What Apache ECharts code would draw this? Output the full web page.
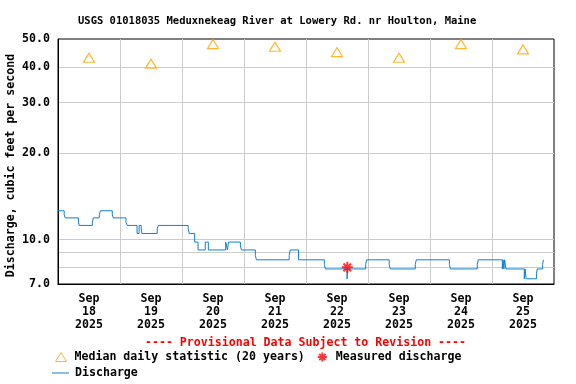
<!DOCTYPE html>
<html><head><meta charset="utf-8">
<script src="https://cdn.jsdelivr.net/npm/echarts@6/dist/echarts.min.js"></script>
<style>html,body{margin:0;padding:0;background:#fff}#c{width:576px;height:384px}</style>
</head><body><div id="c"></div>
<script>
// ---------- data ----------
const titleText = 'USGS 01018035 Meduxnekeag River at Lowery Rd. nr Houlton, Maine';
const yAxisName = 'Discharge, cubic feet per second';
const noteText = '---- Provisional Data Subject to Revision ----';
const monthLabel = 'Sep';
const yearLabel = '2025';
const days = [18, 19, 20, 21, 22, 23, 24, 25];
const medianValues = [43, 41, 48, 47, 45, 43, 48, 46];
const yTickValues = [8, 9, 10, 20, 30, 40];
const yLabelValues = [7, 10, 20, 30, 40, 50];
const measuredHours = [112.0];
const measuredValues = [8.0];
// hours since Sep 18 00:00 where the discharge steps to a new value
const dischargeHours = [0, 2.4, 2.8, 7.9, 8.2, 13.3, 13.7, 16.0, 16.4, 21.0, 21.4, 26.3, 26.8,
  30.6, 31.4, 32.2, 32.5, 38.4, 38.8, 50.4, 50.8, 52.9, 54.2, 57.0, 58.2, 64.9, 65.6, 66.0,
  70.6, 71.0, 76.4, 76.8, 89.5, 89.9, 93.1, 103.1, 103.5, 111.9, 112.1, 119.1, 119.5,
  128.2, 128.6, 138.3, 138.7, 151.5, 151.9, 162.3, 162.7, 172.0, 172.3, 172.6, 172.9, 173.4,
  180.5, 180.8, 181.2, 185.2, 185.5, 187.6, 187.9];
const dischargeValues = [12.6, 12.2, 11.9, 11.5, 11.2, 11.5, 11.9, 12.2, 12.6, 12.2, 11.9, 11.5, 11.2,
  10.5, 11.2, 10.9, 10.5, 10.9, 11.2, 10.9, 10.5, 9.8, 9.2, 9.8, 9.2, 9.8, 9.2, 9.8,
  9.5, 9.2, 8.8, 8.5, 8.8, 9.2, 8.5, 8.2, 7.9, 7.3, 7.9, 8.2, 8.5,
  8.2, 7.9, 8.2, 8.5, 8.2, 7.9, 8.2, 8.5, 7.9, 8.5, 7.9, 8.5, 7.9,
  7.3, 7.9, 7.3, 7.6, 7.9, 8.2, 8.5];

// ---------- build ----------
const HOUR = 3600000, DAY = 24 * HOUR;
const T0 = Date.UTC(2025, 8, days[0]);
const toT = h => T0 + h * HOUR;
const midnights = days.slice(1).map(d => Date.UTC(2025, 8, d));
const noons = days.map(d => Date.UTC(2025, 8, d, 12));
const FONT = '"DejaVu Sans Mono", "Liberation Mono", monospace';
const txt = {fontFamily: FONT, fontWeight: 'bold', fontSize: 11.6, color: '#000'};
const starPath = 'path://M5,0L5,10M0,5L10,5M1.5,1.5L8.5,8.5M8.5,1.5L1.5,8.5';
const BLUE = '#1080d0';

const chart = echarts.init(document.getElementById('c'));
chart.setOption({
  animation: false,
  backgroundColor: '#fff',
  title: {text: titleText, left: 78, top: 15, padding: 0,
    textStyle: {fontFamily: FONT, fontWeight: 'bold', fontSize: 10.5, lineHeight: 12, color: '#000'}},
  grid: {left: 58, right: 22, top: 39, bottom: 100, show: true, borderColor: '#000', borderWidth: 1,
    containLabel: false, outerBoundsMode: 'none'},
  xAxis: {
    type: 'value', min: T0, max: T0 + 8 * DAY,
    axisLine: {lineStyle: {color: '#000', width: 1}},
    axisTick: {show: false, customValues: midnights},
    axisLabel: Object.assign({customValues: noons, margin: 8, lineHeight: 13,
      formatter: v => monthLabel + '\n' + new Date(v).getUTCDate() + '\n' + yearLabel}, txt),
    splitLine: {show: true, lineStyle: {color: '#cccccc', width: 1}}
  },
  yAxis: {
    type: 'log', logBase: 10, min: 7, max: 50,
    axisLine: {show: true, lineStyle: {color: '#000', width: 1}},
    axisTick: {show: false, customValues: yTickValues},
    axisLabel: Object.assign({customValues: yLabelValues, margin: 8,
      formatter: v => Number(v).toFixed(1)}, txt),
    splitLine: {show: true, lineStyle: {color: '#cccccc', width: 1}},
    name: yAxisName, nameLocation: 'middle', nameGap: 41, nameMoveOverlap: false,
    nameTextStyle: Object.assign({padding: [0, 8, 0, 0]}, txt)
  },
  legend: [
    {data: [
      {name: 'Median daily statistic (20 years)', icon: 'triangle',
        itemStyle: {color: 'transparent', borderColor: '#FFA500', borderWidth: 1}},
      {name: 'Measured discharge', icon: starPath,
        itemStyle: {color: 'transparent', borderColor: '#ff0000', borderWidth: 2}}],
     left: 55, top: 350, padding: 0, itemWidth: 11, itemHeight: 9, itemGap: 12,
     textStyle: Object.assign({padding: [0, 0, 0, 3], lineHeight: 14}, txt)},
    {data: [{name: 'Discharge', icon: 'rect', itemStyle: {color: BLUE, borderWidth: 0}}],
     left: 52, top: 366, padding: 0, itemWidth: 17, itemHeight: 1,
     textStyle: Object.assign({padding: [0, 0, 0, 1], lineHeight: 14}, txt)}
  ],
  graphic: [{type: 'text', x: 305.5, y: 342.7,
    style: {text: noteText, fill: '#ff0000', font: 'bold 11.6px ' + FONT, align: 'center', verticalAlign: 'middle'}}],
  series: [
    {name: 'Discharge', type: 'line', step: 'end', symbol: 'none',
      data: dischargeHours.map((h, i) => [toT(h), dischargeValues[i]]),
      lineStyle: {color: BLUE, width: 1}, itemStyle: {color: BLUE}, z: 2},
    {name: 'Median daily statistic (20 years)', type: 'scatter', symbol: 'triangle', symbolSize: [11, 9],
      data: noons.map((t, i) => [t, medianValues[i]]),
      itemStyle: {color: 'transparent', borderColor: '#FFA500', borderWidth: 1.2}, z: 3},
    {name: 'Measured discharge', type: 'scatter', symbol: starPath, symbolSize: 11,
      data: measuredHours.map((h, i) => [toT(h), measuredValues[i]]),
      itemStyle: {color: 'transparent', borderColor: '#ff0000', borderWidth: 2}, z: 4}
  ]
});
</script></body></html>
